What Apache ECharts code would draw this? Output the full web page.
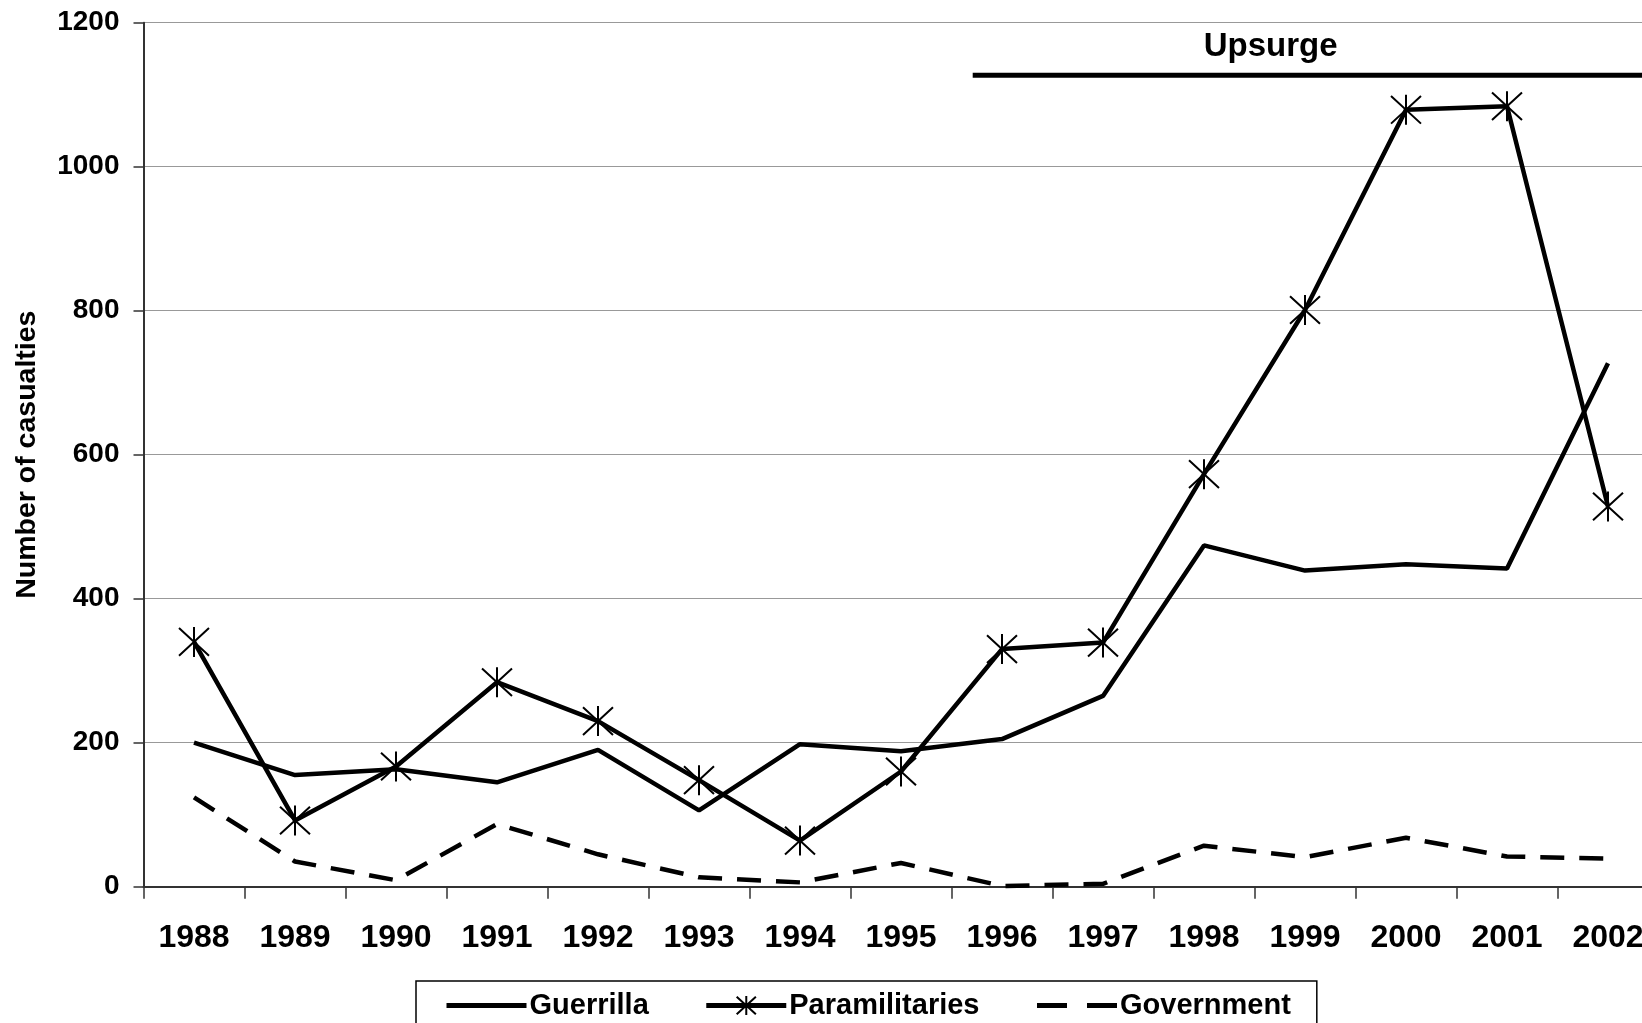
<!DOCTYPE html>
<html>
<head>
<meta charset="utf-8">
<script src="https://cdn.jsdelivr.net/npm/echarts@6/dist/echarts.min.js"></script>
<style>
html,body{margin:0;padding:0;background:#fff;}
#chart{width:1642px;height:1023px;}
</style>
</head>
<body>
<div id="chart"></div>
<script>
const years = ['1988','1989','1990','1991','1992','1993','1994','1995','1996','1997','1998','1999','2000','2001','2002'];
const guerrilla = [200,155,163,145,190,106,198,188,205,265,474,439,448,442,727];
const paramilitaries = [340,92,167,284,230,148,64,160,330,339,573,801,1079,1084,528];
const government = [124,35,9,87,45,13,6,33,1,4,57,41,68,42,39];
const yTicks = [0,200,400,600,800,1000,1200];
const upsurgeLine = [[1995.71,1127],[2002.5,1127]];
const upsurgeLabel = [[1998.66,1166]];

const FONT = "'Liberation Sans', Arial, sans-serif";
const starPath = 'path://M50,0L50,100M0,4L100,96M0,96L100,4';
const hiddenIcon = {color:'rgba(0,0,0,0)', borderWidth:0, borderColor:'rgba(0,0,0,0)'};

const chart = echarts.init(document.getElementById('chart'), null, {renderer:'canvas'});
chart.setOption({
  animation:false,
  backgroundColor:'#fff',
  textStyle:{fontFamily:FONT},
  grid:{left:143.5, width:1515, top:22.7, bottom:136.3, containLabel:false, outerBoundsMode:'none'},
  legend:{
    data:[
      {name:'Guerrilla', itemStyle:hiddenIcon},
      {name:'Paramilitaries'},
      {name:'Government', itemStyle:hiddenIcon, lineStyle:{type:[30,20], width:5}}
    ],
    left:416, top:981,
    orient:'horizontal',
    itemWidth:80, itemHeight:24, itemGap:55,
    padding:[10,26,40,28],
    borderColor:'#000', borderWidth:1.5,
    lineStyle:{width:5},
    textStyle:{fontFamily:FONT, fontSize:29, fontWeight:'bold', color:'#000', padding:[0,0,0,-2]}
  },
  xAxis:[{
    type:'category', data:years, boundaryGap:true,
    axisLine:{lineStyle:{color:'#333', width:2}},
    axisTick:{show:true, length:12, lineStyle:{color:'#333', width:1.5}},
    axisLabel:{fontFamily:FONT, fontSize:32, fontWeight:'bold', color:'#000', margin:35},
    splitLine:{show:false}
  },{
    type:'value', min:1987.5, max:2002.5, show:false
  }],
  yAxis:{
    type:'value', min:yTicks[0], max:yTicks[yTicks.length-1], interval:200,
    name:'Number of casualties', nameLocation:'middle', nameGap:102,
    nameTextStyle:{fontFamily:FONT, fontSize:28.5, fontWeight:'bold', color:'#000'},
    axisLine:{show:true, lineStyle:{color:'#333', width:2}},
    axisTick:{show:true, length:10, lineStyle:{color:'#333', width:1.5}},
    axisLabel:{fontFamily:FONT, fontSize:28, fontWeight:'bold', color:'#000', margin:24,
      formatter:function(v){return String(v);}},
    splitLine:{show:true, lineStyle:{color:'#999', width:1.2}}
  },
  series:[{
    name:'Guerrilla', type:'line', data:guerrilla, symbol:'none',
    lineStyle:{color:'#000', width:4.5}, itemStyle:{color:'#000'}
  },{
    name:'Paramilitaries', type:'line', data:paramilitaries,
    symbol:starPath, symbolSize:[30,30], showSymbol:true,
    lineStyle:{color:'#000', width:4.5},
    itemStyle:{color:'none', borderColor:'#000', borderWidth:2}
  },{
    name:'Government', type:'line', data:government, symbol:'none',
    lineStyle:{color:'#000', width:4.5, type:[24,15]}, itemStyle:{color:'#000'}
  },{
    name:'upsurge', type:'line', xAxisIndex:1, data:upsurgeLine, symbol:'none',
    lineStyle:{color:'#000', width:5}, silent:true
  },{
    name:'upsurgeText', type:'scatter', xAxisIndex:1, data:upsurgeLabel,
    symbolSize:0, itemStyle:{color:'#000'},
    label:{show:true, position:'inside', formatter:'Upsurge', fontFamily:FONT, fontSize:33, fontWeight:'bold', color:'#000', opacity:1},
    silent:true
  }]
});
</script>
</body>
</html>
